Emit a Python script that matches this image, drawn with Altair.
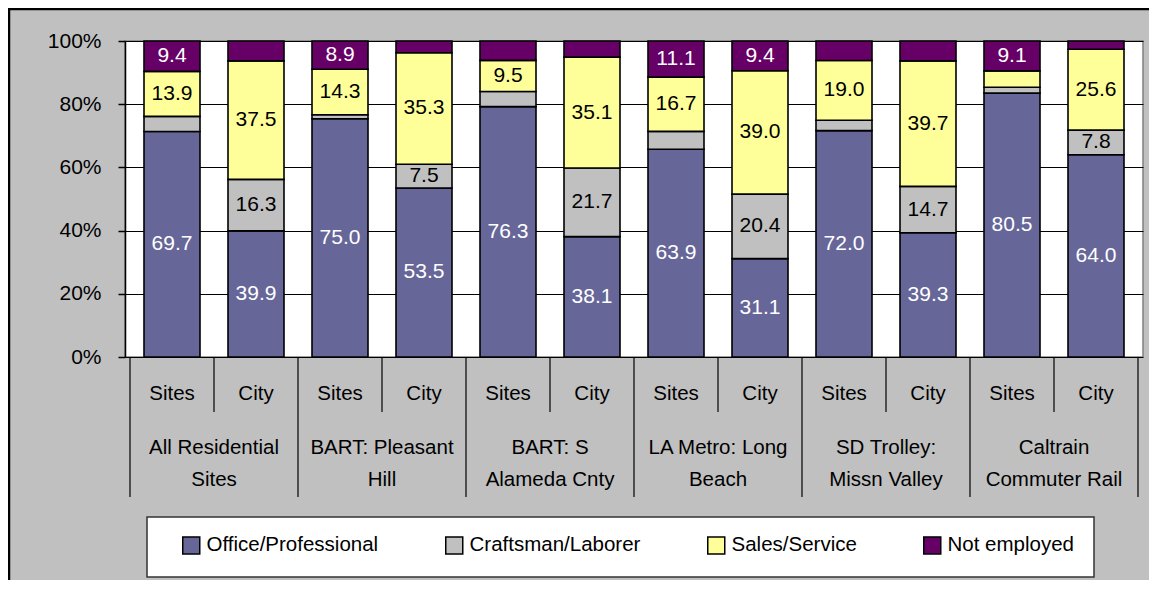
import altair as alt
import pandas as pd

# ---------------- data ----------------
groups = ["All Residential\nSites", "BART: Pleasant\nHill", "BART: S\nAlameda Cnty",
          "LA Metro: Long\nBeach", "SD Trolley:\nMissn Valley", "Caltrain\nCommuter Rail"]
subs = ["Sites", "City"]
categories = ["Office/Professional", "Craftsman/Laborer", "Sales/Service", "Not employed"]

office = [69.7, 39.9, 75.0, 53.5, 76.3, 38.1, 63.9, 31.1, 72.0, 39.3, 80.5, 64.0]
craft = [4.7, 16.3, 1.3, 7.5, 4.6, 21.7, 5.5, 20.4, 3.3, 14.7, 1.8, 7.8]
sales = [13.9, 37.5, 14.3, 35.3, 9.5, 35.1, 16.7, 39.0, 19.0, 39.7, 5.0, 25.6]
notemp = [9.4, 6.3, 8.9, 3.7, 5.9, 5.1, 11.1, 9.4, 6.2, 6.3, 9.1, 2.6]

colors = ["#666699", "#C0C0C0", "#FFFF99", "#660066"]
FONT = "Liberation Sans, Arial, sans-serif"

series = [office, craft, sales, notemp]
rows = []
for bi in range(len(office)):
    for ci, cat in enumerate(categories):
        rows.append({
            "pos": bi + 0.5,
            "group": groups[bi // 2],
            "sub": subs[bi % 2],
            "cat": cat,
            "ord": ci,
            "value": series[ci][bi],
        })
df = pd.DataFrame(rows)

sub_df = pd.DataFrame({"pos": [i + 0.5 for i in range(len(office))],
                       "sub": [subs[i % 2] for i in range(len(office))]})
grp_df = pd.DataFrame({"gpos": [2 * g + 1 for g in range(len(groups))], "group": groups})
short_sep = pd.DataFrame({"b": [2 * g + 1 for g in range(len(groups))]})
long_sep = pd.DataFrame({"b": [2 * g for g in range(len(groups) + 1)]})

W, H = 1018, 316
xscale = alt.Scale(domain=[0, 12], nice=False, zero=False)
yscale = alt.Scale(domain=[0, 1], nice=False)

base = alt.Chart(df).transform_stack(
    stack="value", as_=["y0", "y1"], groupby=["pos"],
    sort=[alt.SortField("ord", order="ascending")], offset="normalize"
)

bars = base.mark_bar(size=56, stroke="black", strokeWidth=1.6).encode(
    x=alt.X("pos:Q", scale=xscale, axis=None),
    y=alt.Y("y0:Q", scale=yscale,
            axis=alt.Axis(values=[0, 0.2, 0.4, 0.6, 0.8, 1.0], format=".0%", title=None,
                          grid=True, gridColor="black", gridWidth=1,
                          domainColor="black", domainWidth=1.5,
                          tickColor="black", tickSize=7, tickWidth=1.5,
                          labelFont=FONT, labelFontSize=21, labelColor="black",
                          labelPadding=17)),
    y2="y1:Q",
    color=alt.Color("cat:N", scale=alt.Scale(domain=categories, range=colors),
                    legend=alt.Legend(title=None, orient="none", direction="horizontal",
                                      columns=4, legendX=56, legendY=494,
                                      symbolType="square", symbolSize=289,
                                      symbolStrokeColor="black", symbolStrokeWidth=1.5,
                                      labelFont=FONT, labelFontSize=20.5, labelColor="black",
                                      labelOffset=5, labelLimit=400, columnPadding=63,
                                      padding=0)),
    order=alt.Order("ord:Q"),
)

labels = base.transform_calculate(mid="(datum.y0 + datum.y1) / 2").transform_filter(
    "datum.value >= 7"
).mark_text(font=FONT, fontSize=21, baseline="middle", align="center").encode(
    x=alt.X("pos:Q", scale=xscale),
    y=alt.Y("mid:Q", scale=yscale),
    text=alt.Text("value:Q", format=".1f"),
    color=alt.condition("datum.cat == 'Office/Professional' || datum.cat == 'Not employed'",
                        alt.value("white"), alt.value("black")),
)

short_rules = alt.Chart(short_sep).mark_rule(color="black", strokeWidth=1.2).encode(
    x=alt.X("b:Q", scale=xscale), y=alt.value(H), y2=alt.value(371))
long_rules = alt.Chart(long_sep).mark_rule(color="black", strokeWidth=1.2).encode(
    x=alt.X("b:Q", scale=xscale), y=alt.value(H), y2=alt.value(456))

sub_text = alt.Chart(sub_df).mark_text(font=FONT, fontSize=20.5, baseline="middle",
                                       color="black").encode(
    x=alt.X("pos:Q", scale=xscale), y=alt.value(353), text="sub:N")

grp_text = alt.Chart(grp_df).mark_text(font=FONT, fontSize=20.5, baseline="middle",
                                       color="black", lineBreak="\n", lineHeight=32).encode(
    x=alt.X("gpos:Q", scale=xscale), y=alt.value(407), text="group:N")

one = pd.DataFrame({"k": [0]})
legend_box = alt.Chart(one).mark_rect(fill="white", stroke="#333333", strokeWidth=1.5).encode(
    x=alt.value(22), x2=alt.value(969), y=alt.value(476), y2=alt.value(536))
outer_box = alt.Chart(one).mark_rect(fillOpacity=0, stroke="black", strokeWidth=2.5).encode(
    x=alt.value(-116), x2=alt.value(W + 40), y=alt.value(-32), y2=alt.value(H + 300))

chart = alt.layer(
    legend_box, outer_box, bars, labels, short_rules, long_rules, sub_text, grp_text
).properties(
    width=W, height=H,
    autosize=alt.AutoSizeParams(type="none"),
    padding={"left": 117, "top": 33, "right": 6, "bottom": 223},
    background="#C0C0C0",
).configure_view(
    fill="white", stroke="#808080", strokeWidth=1.5
)

chart.save("out.html", embed_options={"renderer": "svg", "actions": False})
